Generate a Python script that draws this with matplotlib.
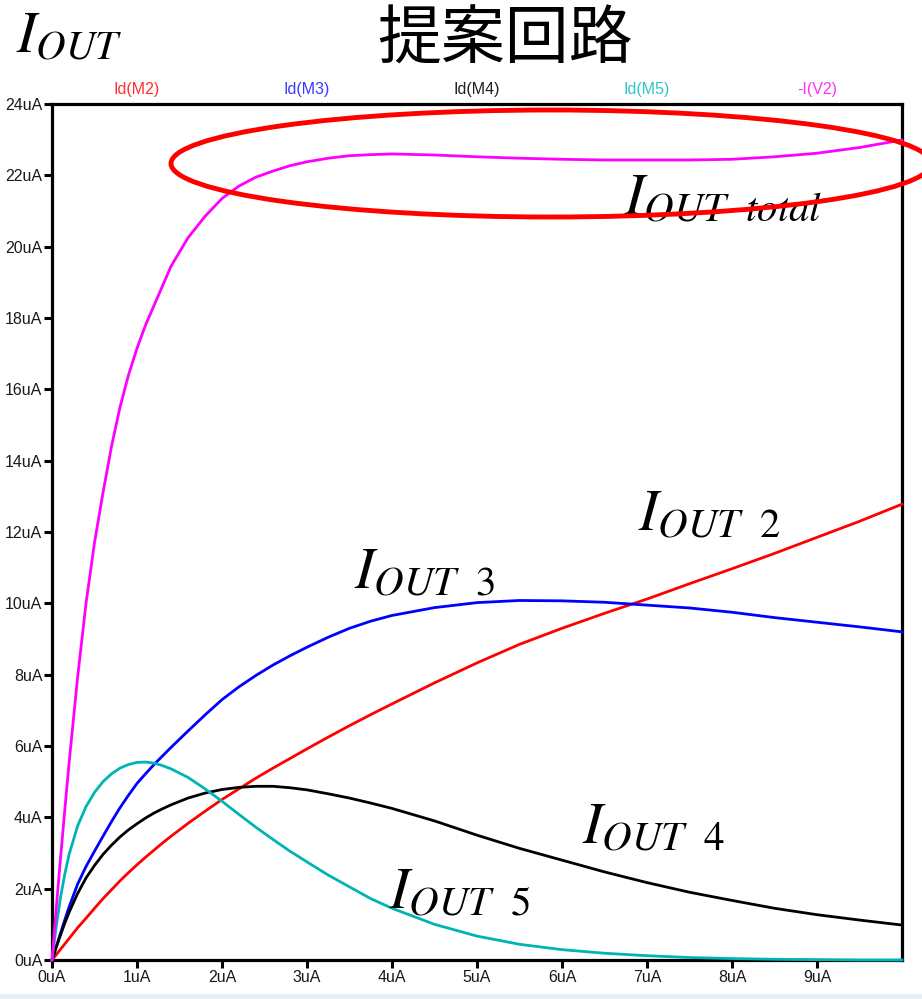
import matplotlib
matplotlib.use("Agg")
import matplotlib.pyplot as plt
from matplotlib.patches import Ellipse, Rectangle

# Sweep of the input current (uA)
x_ua = [0, 0.05, 0.1, 0.15, 0.2, 0.3, 0.4, 0.5, 0.6, 0.7, 0.8, 0.9, 1.0, 1.1, 1.2, 1.3,
        1.4, 1.6, 1.8, 2.0, 2.2, 2.4, 2.6, 2.8, 3.0, 3.25, 3.5, 3.75, 4.0, 4.5, 5.0,
        5.5, 6.0, 6.5, 7.0, 7.5, 8.0, 8.5, 9.0, 9.5, 10.0]

# Branch output currents (uA)
id_m2 = [0, 0.15, 0.3, 0.45, 0.6, 0.9, 1.17, 1.45, 1.72, 1.97, 2.22, 2.45, 2.67, 2.88, 3.08, 3.28,
         3.47, 3.83, 4.17, 4.5, 4.8, 5.1, 5.38, 5.65, 5.92, 6.25, 6.57, 6.88, 7.18, 7.77, 8.33,
         8.85, 9.3, 9.72, 10.12, 10.55, 10.97, 11.4, 11.85, 12.3, 12.78]
id_m3 = [0, 0.38, 0.75, 1.12, 1.48, 2.12, 2.62, 3.05, 3.47, 3.88, 4.27, 4.62, 4.95, 5.22, 5.48, 5.72,
         5.96, 6.42, 6.87, 7.3, 7.66, 7.98, 8.27, 8.53, 8.77, 9.05, 9.3, 9.5, 9.66, 9.88, 10.02,
         10.08, 10.07, 10.03, 9.95, 9.87, 9.75, 9.6, 9.47, 9.34, 9.2]
id_m4 = [0, 0.36, 0.7, 1.03, 1.33, 1.86, 2.3, 2.65, 2.96, 3.22, 3.45, 3.65, 3.82, 3.98, 4.12, 4.24,
         4.35, 4.54, 4.68, 4.78, 4.84, 4.87, 4.87, 4.83, 4.77, 4.66, 4.54, 4.4, 4.25, 3.9, 3.5,
         3.13, 2.8, 2.47, 2.17, 1.9, 1.67, 1.45, 1.27, 1.12, 0.98]
id_m5 = [0, 0.95, 1.75, 2.4, 2.95, 3.75, 4.3, 4.7, 5.0, 5.22, 5.38, 5.48, 5.54, 5.55, 5.52, 5.45,
         5.36, 5.12, 4.8, 4.45, 4.08, 3.72, 3.38, 3.05, 2.75, 2.38, 2.05, 1.72, 1.45, 1.0, 0.67,
         0.44, 0.29, 0.19, 0.12, 0.07, 0.04, 0.02, 0.01, 0.0, 0.0]
i_v2 = [0, 1.45, 2.85, 4.2, 5.5, 7.9, 10.0, 11.7, 13.1, 14.4, 15.5, 16.4, 17.15, 17.8, 18.35, 18.9,
        19.45, 20.25, 20.85, 21.35, 21.7, 21.95, 22.12, 22.27, 22.38, 22.48, 22.55, 22.58, 22.6,
        22.57, 22.52, 22.48, 22.45, 22.43, 22.43, 22.43, 22.45, 22.52, 22.62, 22.78, 22.99]

trace_names = ["Id(M2)", "Id(M3)", "Id(M4)", "Id(M5)", "-I(V2)"]
trace_colors = ["#ff0000", "#0000ff", "#000000", "#00b4b4", "#ff00ff"]
label_colors = ["#ff3030", "#3a3aff", "#202020", "#30c4c4", "#ff30ff"]
label_pos = [1, 3, 5, 7, 9]

x_ticks = list(range(0, 10))
x_ticklabels = [f"{v}uA" for v in x_ticks]
y_ticks = list(range(0, 25, 2))
y_ticklabels = [f"{v}uA" for v in y_ticks]

plt.rcParams["mathtext.fontset"] = "stix"

W, H = 922, 999
fig = plt.figure(figsize=(W / 100, H / 100), dpi=100)
ax = fig.add_axes([52 / W, (H - 960) / H, 850 / W, 856 / H])

series = [id_m2, id_m3, id_m4, id_m5, i_v2]
for ys, c in zip(series, trace_colors):
    ax.plot(x_ua, ys, color=c, lw=2.0, zorder=3, clip_on=False, solid_joinstyle="round")

ax.set_xlim(0, 10)
ax.set_ylim(0, 24)
ax.set_xticks(x_ticks)
ax.set_xticklabels(x_ticklabels)
ax.set_yticks(y_ticks)
ax.set_yticklabels(y_ticklabels)
for s in ax.spines.values():
    s.set_linewidth(2.3)
    s.set_color("black")
ax.tick_params(direction="out", length=6, width=2.2, pad=1,
               labelsize=11.5, labelcolor="#1a1a1a")
for lab in ax.get_xticklabels() + ax.get_yticklabels():
    lab.set_fontfamily("Liberation Sans")

# trace names above the plot
for name, c, xp in zip(trace_names, label_colors, label_pos):
    ax.text(xp, 1.0165, name, color=c, ha="center", va="center", fontsize=11.5,
            family="Liberation Sans", transform=ax.get_xaxis_transform())

# title
fig.text(505 / W, 1 - 40 / H, "提案回路", ha="center", va="center", fontsize=46,
         family=["Noto Sans CJK JP", "DejaVu Sans"])

# current labels: (left x, baseline y) in pixels
current_labels = [
    (16, 53, r"$I_{OUT}$"),
    (624, 215, r"$I_{OUT\ \ total}$"),
    (638, 531, r"$I_{OUT\ \ 2}$"),
    (354, 589, r"$I_{OUT\ \ 3}$"),
    (582, 844, r"$I_{OUT\ \ 4}$"),
    (389, 909, r"$I_{OUT\ \ 5}$"),
]
for px, py, s in current_labels:
    fig.text(px / W, 1 - py / H, s, ha="left", va="baseline", fontsize=42)

# highlight around the saturated total current
fig.add_artist(Ellipse((551 / W, 1 - 163.5 / H), 760 / W, 107 / H, fill=False,
                       edgecolor="#ff0000", lw=3.5, transform=fig.transFigure,
                       clip_on=False, zorder=5))

# pale strip along the bottom edge
fig.add_artist(Rectangle((0, 0), 1, 5 / H, transform=fig.transFigure,
                         facecolor="#e6eef6", edgecolor="none"))

fig.savefig("out.png", dpi=100)
